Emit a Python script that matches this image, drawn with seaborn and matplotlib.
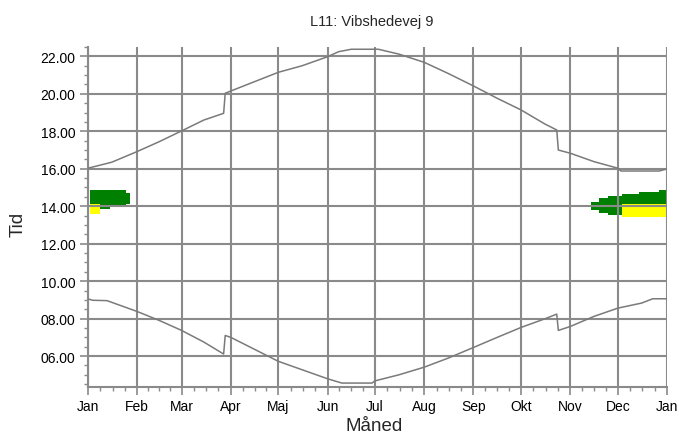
import numpy as np
import pandas as pd
import seaborn as sns
import matplotlib.pyplot as plt
from matplotlib.ticker import FixedLocator, MultipleLocator, FormatStrFormatter

# ----------------------------
# Data (day of year, hour of day)
# ----------------------------
sunset_day = [0, 15, 31, 45, 59, 73, 85.5, 86.5, 90, 105, 120, 135, 151, 158, 166, 183,
              196, 212, 227, 243, 258, 273, 288, 295.5, 296.5, 304, 319, 334, 336, 360, 365]
sunset_hour = [16.03, 16.35, 16.92, 17.45, 18.02, 18.6, 18.96, 20.03, 20.15, 20.65, 21.15,
               21.5, 21.98, 22.25, 22.38, 22.38, 22.12, 21.68, 21.09, 20.42, 19.76, 19.14,
               18.39, 18.07, 17.0, 16.83, 16.38, 16.03, 15.88, 15.88, 15.99]

sunrise_day = [0, 3, 12, 31, 45, 59, 73, 85.5, 86.5, 90, 105, 120, 135, 151, 160, 179,
               181, 196, 212, 227, 243, 258, 273, 288, 295.5, 296.5, 304, 319, 334, 349,
               356, 365]
sunrise_hour = [9.05, 8.98, 8.96, 8.38, 7.9, 7.37, 6.75, 6.11, 7.1, 7.0, 6.36, 5.72, 5.27,
                4.79, 4.56, 4.56, 4.68, 5.0, 5.41, 5.89, 6.46, 7.0, 7.53, 7.99, 8.24, 7.37,
                7.58, 8.12, 8.56, 8.83, 9.06, 9.06]

# shadow flicker periods: column start day, top and bottom hour
green_left_day = [1.3, 7.4, 13.6, 19.9, 23.8, 26.5]
green_left_top = [14.84, 14.84, 14.84, 14.84, 14.73]
green_left_bot = [14.12, 13.84, 13.98, 14.06, 14.12]

yellow_left_day = [1.3, 7.6]
yellow_left_top = [14.12]
yellow_left_bot = [13.6]

green_right_day = [317.4, 322.2, 328, 336.9, 347.4, 360, 365]
green_right_top = [14.25, 14.43, 14.55, 14.64, 14.75, 14.85]
green_right_bot = [13.8, 13.66, 13.54, 14.1, 14.1, 14.1]

yellow_right_day = [336.9, 365]
yellow_right_top = [14.1]
yellow_right_bot = [13.45]

month_start = [0, 31, 59, 90, 120, 151, 181, 212, 243, 273, 304, 334, 365]
month_labels = ["Jan", "Feb", "Mar", "Apr", "Maj", "Jun", "Jul", "Aug", "Sep", "Okt",
                "Nov", "Dec", "Jan"]

# ----------------------------
# Plot
# ----------------------------
sns.set_theme(style="white")
plt.rcParams['font.family'] = ['Liberation Sans', 'DejaVu Sans']

GRAY = "#8a8a8a"

fig = plt.figure(figsize=(6.79, 4.39), dpi=100)
ax = fig.add_axes([88 / 679, 1 - 388 / 439, (667 - 88) / 679, (388 - 48) / 439])


def blob(days, top, bot, color):
    top = list(top) + [top[-1]]
    bot = list(bot) + [bot[-1]]
    ax.fill_between(days, bot, top, step="post", color=color, linewidth=0, zorder=1)


blob(green_left_day, green_left_top, green_left_bot, "#008000")
blob(yellow_left_day, yellow_left_top, yellow_left_bot, "#ffff00")
blob(green_right_day, green_right_top, green_right_bot, "#008000")
blob(yellow_right_day, yellow_right_top, yellow_right_bot, "#ffff00")

sun = pd.DataFrame({"day": sunset_day, "hour": sunset_hour})
rise = pd.DataFrame({"day": sunrise_day, "hour": sunrise_hour})
sns.lineplot(data=sun, x="day", y="hour", ax=ax, color="#7a7a7a", linewidth=1.1,
             sort=False, estimator=None, zorder=3)
sns.lineplot(data=rise, x="day", y="hour", ax=ax, color="#7a7a7a", linewidth=1.1,
             sort=False, estimator=None, zorder=3)

ax.set_xlim(0, 365)
ax.set_ylim(4.35, 22.5)

# month ticks + quarter-month minor ticks
minor = []
for a, b in zip(month_start[:-1], month_start[1:]):
    minor += [a + (b - a) * k / 4 for k in (1, 2, 3)]
ax.xaxis.set_major_locator(FixedLocator(month_start))
ax.set_xticklabels(month_labels)
ax.xaxis.set_minor_locator(FixedLocator(minor))

ax.yaxis.set_major_locator(FixedLocator(np.arange(6, 23, 2)))
ax.yaxis.set_major_formatter(FormatStrFormatter("%05.2f"))
ax.yaxis.set_minor_locator(MultipleLocator(0.5))

ax.set_axisbelow(False)
ax.grid(True, which="major", color=GRAY, linewidth=1.5, zorder=2)

for side in ["top", "right"]:
    ax.spines[side].set_visible(False)
for side in ["left", "bottom"]:
    ax.spines[side].set_color(GRAY)
    ax.spines[side].set_linewidth(1.5)

ax.tick_params(which="major", length=6, width=1.2, color=GRAY, labelsize=10,
               labelcolor="black", pad=3, left=True, bottom=True)
ax.tick_params(which="minor", length=3, width=1.0, color=GRAY, left=True, bottom=True)

ax.set_xlabel("")
ax.set_ylabel("")
fig.text(374 / 679, 1 - 427 / 439, "Måned", ha="center", va="center", fontsize=13.5)
fig.text(18 / 679, 1 - 224 / 439, "Tid", ha="center", va="center", fontsize=13.5,
         rotation=90)
fig.text(372 / 679, 1 - 22 / 439, "L11: Vibshedevej 9", ha="center", va="center",
         fontsize=10.5)

plt.savefig("out.png", dpi=100)
plt.close()
